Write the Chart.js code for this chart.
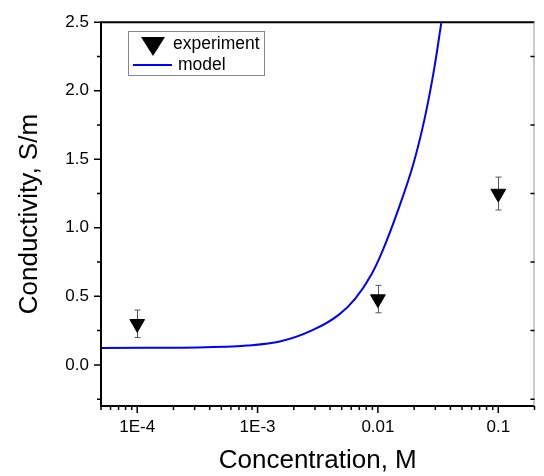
<!DOCTYPE html>
<html>
<head>
<meta charset="utf-8">
<script src="https://cdn.jsdelivr.net/npm/chart.js@4/dist/chart.umd.min.js"></script>
<style>
  html, body { margin: 0; padding: 0; background: #fff; }
  canvas { display: block; }
</style>
</head>
<body>
<canvas id="condChart" width="544" height="476"></canvas>
<script>
// experiment points (concentration in M, conductivity in S/m, error)
const expConc = [1e-4, 0.01, 0.1];
const expCond = [0.30, 0.48, 1.25];
const expErr = [0.10, 0.10, 0.12];

// model curve
const modelConc = [5e-5, 1.2e-4, 3.2e-4, 8.2e-4, 1.53e-3, 2.86e-3, 4.72e-3, 6.46e-3, 8.83e-3, 0.01097, 0.01455, 0.01991, 0.02479, 0.02933, 0.0336];
const modelCond = [0.124, 0.125, 0.127, 0.141, 0.170, 0.253, 0.365, 0.482, 0.660, 0.836, 1.118, 1.48, 1.822, 2.159, 2.493];

// axis ticks
const xTickValues = [1e-4, 1e-3, 1e-2, 1e-1];
const xTickLabels = ['1E-4', '1E-3', '0.01', '0.1'];
const xMinorMult = [2, 3, 4, 5, 6, 7, 8, 9];
const yTickValues = [0, 0.5, 1.0, 1.5, 2.0, 2.5];
const yTickLabels = ['0.0', '0.5', '1.0', '1.5', '2.0', '2.5'];
const yMinorValues = [-0.25, 0.25, 0.75, 1.25, 1.75, 2.25];

const xMinorValues = [];
[1e-5, 1e-4, 1e-3, 1e-2, 1e-1].forEach(d => {
    xMinorMult.forEach(m => {
        const v = +(d * m).toPrecision(3);
        if (v >= 5e-5 && v <= 0.2) xMinorValues.push(v);
    });
});

const black = '#000';
const blue = '#0000ff';

// error bars, behind the markers
const errorBars = {
    id: 'errorBars',
    beforeDatasetsDraw(chart) {
        const { ctx, scales: { x, y } } = chart;
        ctx.save();
        ctx.strokeStyle = '#555';
        ctx.lineWidth = 1;
        expConc.forEach((c, i) => {
            const px = Math.round(x.getPixelForValue(c)) + 0.5;
            const top = y.getPixelForValue(expCond[i] + expErr[i]);
            const bot = y.getPixelForValue(expCond[i] - expErr[i]);
            ctx.beginPath();
            ctx.moveTo(px, top); ctx.lineTo(px, bot);
            ctx.moveTo(px - 3, top); ctx.lineTo(px + 3, top);
            ctx.moveTo(px - 3, bot); ctx.lineTo(px + 3, bot);
            ctx.stroke();
        });
        ctx.restore();
    }
};

// frame, tick marks and legend box
const frame = {
    id: 'frame',
    afterDraw(chart) {
        const { ctx, chartArea: a, scales: { x, y } } = chart;
        ctx.save();
        ctx.strokeStyle = black;
        ctx.lineWidth = 2;
        ctx.beginPath();
        ctx.moveTo(a.right, a.top); ctx.lineTo(a.left, a.top);
        ctx.lineTo(a.left, a.bottom); ctx.lineTo(a.right, a.bottom);
        ctx.stroke();
        ctx.strokeStyle = '#999';
        ctx.lineWidth = 1;
        ctx.beginPath();
        ctx.moveTo(a.right - 0.5, a.top); ctx.lineTo(a.right - 0.5, a.bottom);
        ctx.stroke();

        ctx.strokeStyle = black;
        ctx.lineWidth = 1.5;
        ctx.beginPath();
        yTickValues.forEach(v => {
            const py = y.getPixelForValue(v);
            ctx.moveTo(a.left - 7, py); ctx.lineTo(a.left, py);
        });
        yMinorValues.forEach(v => {
            const py = y.getPixelForValue(v);
            ctx.moveTo(a.left - 4, py); ctx.lineTo(a.left, py);
            ctx.moveTo(a.right - 4, py); ctx.lineTo(a.right, py);
        });
        xTickValues.forEach(v => {
            const px = x.getPixelForValue(v);
            ctx.moveTo(px, a.bottom); ctx.lineTo(px, a.bottom + 7);
        });
        xMinorValues.forEach(v => {
            const px = x.getPixelForValue(v);
            ctx.moveTo(px, a.bottom); ctx.lineTo(px, a.bottom + 4);
        });
        ctx.stroke();

        // legend
        const lx = 128, ly = 31;
        ctx.strokeStyle = '#888';
        ctx.lineWidth = 1;
        ctx.strokeRect(lx + 0.5, ly + 0.5, 136, 44);
        ctx.fillStyle = black;
        ctx.beginPath();
        ctx.moveTo(lx + 13, ly + 6);
        ctx.lineTo(lx + 37, ly + 6);
        ctx.lineTo(lx + 25, ly + 25);
        ctx.closePath();
        ctx.fill();
        ctx.strokeStyle = blue;
        ctx.lineWidth = 2;
        ctx.beginPath();
        ctx.moveTo(lx + 5, ly + 34); ctx.lineTo(lx + 44, ly + 34);
        ctx.stroke();
        ctx.font = '17.5px "Liberation Sans", Arial, sans-serif';
        ctx.textBaseline = 'middle';
        ctx.fillText(chart.data.datasets[1].label, lx + 45, ly + 13);
        ctx.fillText(chart.data.datasets[0].label, lx + 50, ly + 34);
        ctx.restore();
    }
};

const axisFont = { family: '"Liberation Sans", Arial, sans-serif', size: 17 };
const titleFont = { family: '"Liberation Sans", Arial, sans-serif', size: 26 };

new Chart(document.getElementById('condChart'), {
    type: 'line',
    data: {
        datasets: [
            {
                label: 'model',
                data: modelConc.map((c, i) => ({ x: c, y: modelCond[i] })),
                borderColor: blue,
                borderWidth: 2,
                pointRadius: 0,
                cubicInterpolationMode: 'monotone',
                fill: false
            },
            {
                label: 'experiment',
                data: expConc.map((c, i) => ({ x: c, y: expCond[i] })),
                showLine: false,
                pointStyle: 'triangle',
                rotation: 180,
                pointRadius: 8.5,
                backgroundColor: black,
                borderColor: black,
                borderWidth: 1
            }
        ]
    },
    options: {
        responsive: false,
        animation: false,
        layout: { padding: { top: 19, right: 1, left: 0, bottom: 0 } },
        plugins: { legend: { display: false }, tooltip: { enabled: false } },
        scales: {
            x: {
                type: 'logarithmic',
                min: 5e-5,
                max: 0.2,
                afterFit: s => { s.height = 70; },
                afterBuildTicks: s => { s.ticks = xTickValues.map(v => ({ value: v })); },
                grid: { display: false, drawTicks: false },
                border: { display: false },
                ticks: {
                    autoSkip: false,
                    maxRotation: 0,
                    padding: 11,
                    color: black,
                    font: axisFont,
                    callback: v => xTickLabels[xTickValues.indexOf(v)]
                },
                title: { display: true, text: 'Concentration, M', color: black, font: titleFont, padding: 0 }
            },
            y: {
                min: -0.3,
                max: 2.5,
                afterFit: s => { s.width = 101; },
                afterBuildTicks: s => { s.ticks = yTickValues.map(v => ({ value: v })); },
                grid: { display: false, drawTicks: false },
                border: { display: false },
                ticks: {
                    autoSkip: false,
                    padding: 12,
                    color: black,
                    font: axisFont,
                    callback: v => yTickLabels[yTickValues.indexOf(v)]
                },
                title: { display: true, text: 'Conductivity, S/m', color: black, font: titleFont, padding: 14 }
            }
        }
    },
    plugins: [errorBars, frame]
});
</script>
</body>
</html>
